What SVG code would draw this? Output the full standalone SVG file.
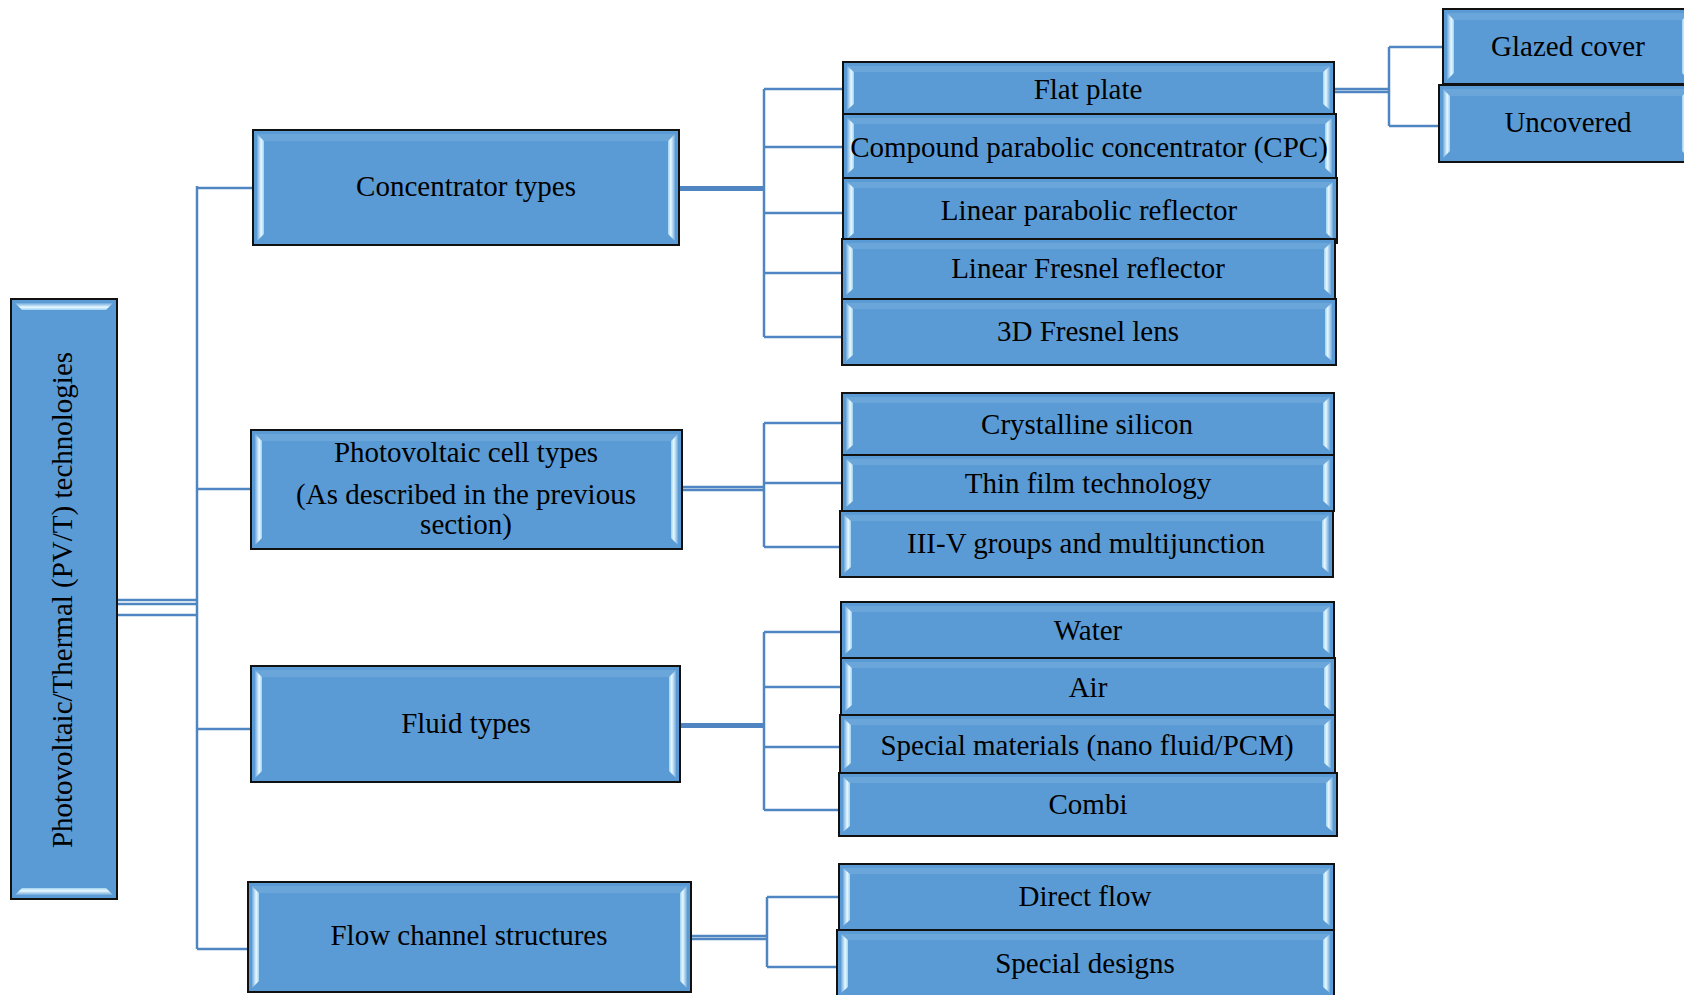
<svg xmlns="http://www.w3.org/2000/svg" width="1684" height="995" viewBox="0 0 1684 995">
<defs>
<linearGradient id="gl" x1="0" y1="0" x2="1" y2="0"><stop offset="0" stop-color="#6fa9dc"/><stop offset="0.6" stop-color="#e8f9ff"/><stop offset="1" stop-color="#9ed2f0"/></linearGradient>
<linearGradient id="gr" x1="1" y1="0" x2="0" y2="0"><stop offset="0" stop-color="#6fa9dc"/><stop offset="0.6" stop-color="#e8f9ff"/><stop offset="1" stop-color="#9ed2f0"/></linearGradient>
<linearGradient id="gt" x1="0" y1="0" x2="0" y2="1"><stop offset="0" stop-color="#6fa9dc"/><stop offset="0.6" stop-color="#e8f9ff"/><stop offset="1" stop-color="#9ed2f0"/></linearGradient>
<linearGradient id="gb" x1="0" y1="1" x2="0" y2="0"><stop offset="0" stop-color="#6fa9dc"/><stop offset="0.6" stop-color="#e8f9ff"/><stop offset="1" stop-color="#9ed2f0"/></linearGradient>
<style>
.box{fill:#5b9bd5;stroke:#111;stroke-width:2}
.bl{fill:url(#gl)}
.br{fill:url(#gr)}
.bt{fill:url(#gt)}
.bb{fill:url(#gb)}
.hl{fill:#86bbe6;opacity:0.35}
.t{font-family:"Liberation Serif","Times New Roman",serif;font-size:29px;fill:#000;text-anchor:middle}
.c{fill:none;stroke:#4f86c1;stroke-width:2.5}
.thick{fill:none;stroke:#4f86c1;stroke-width:5}
</style>
</defs>
<g id="connectors">
<path class="c" d="M117 600H197M117 604H197M117 615H197"/>
<path class="c" d="M197 186V949M197 188H253M197 489H251M197 729H251M197 949H248"/>
<path class="thick" d="M679 188.5H764"/>
<path class="c" d="M764 89V337M764 89H843M764 147H843M764 213H843M764 273H842M764 337H842"/>
<path class="c" d="M682 487H764M682 490H764M764 423V547M764 423H842M764 483H842M764 547H840"/>
<path class="thick" d="M680 725.5H764"/>
<path class="c" d="M764 632V810M764 632H841M764 687H841M764 747H840M764 810H839"/>
<path class="c" d="M691 936H767M691 939H767M767 897V967M767 897H839M767 967H837"/>
<path class="c" d="M1334 89H1389M1334 92H1389M1389 47V126M1389 47H1443M1389 126H1439"/>
</g>
<g id="n-main">
<rect class="box" x="11" y="299" width="106" height="600"/>
<polygon class="bt" points="15,303 113,303 106,310 22,310"/>
<polygon class="bb" points="15,895 113,895 106,888 22,888"/>
<text class="t" transform="translate(72,600) rotate(-90)">Photovoltaic/Thermal (PV/T) technologies</text>
</g>
<g id="n-conc">
<rect class="box" x="253" y="130" width="426" height="115"/>
<polygon class="hl" points="257,134 675,134 668,141 264,141"/>
<polygon class="bl" points="257,134 264,141 264,234 257,241"/>
<polygon class="br" points="675,134 668,141 668,234 675,241"/>
<text class="t" x="466" y="196">Concentrator types</text>
</g>
<g id="n-pv">
<rect class="box" x="251" y="430" width="431" height="119"/>
<polygon class="hl" points="255,434 678,434 671,441 262,441"/>
<polygon class="bl" points="255,434 262,441 262,538 255,545"/>
<polygon class="br" points="678,434 671,441 671,538 678,545"/>
<text class="t" x="466" y="462">Photovoltaic cell types</text>
<text class="t" x="466" y="504">(As described in the previous</text>
<text class="t" x="466" y="534">section)</text>
</g>
<g id="n-fluid">
<rect class="box" x="251" y="666" width="429" height="116"/>
<polygon class="hl" points="255,670 676,670 669,677 262,677"/>
<polygon class="bl" points="255,670 262,677 262,771 255,778"/>
<polygon class="br" points="676,670 669,677 669,771 676,778"/>
<text class="t" x="466" y="733">Fluid types</text>
</g>
<g id="n-flow">
<rect class="box" x="248" y="882" width="443" height="110"/>
<polygon class="hl" points="252,886 687,886 680,893 259,893"/>
<polygon class="bl" points="252,886 259,893 259,981 252,988"/>
<polygon class="br" points="687,886 680,893 680,981 687,988"/>
<text class="t" x="469" y="945">Flow channel structures</text>
</g>
<g id="n-flat">
<rect class="box" x="843" y="62" width="491" height="52"/>
<polygon class="hl" points="847,66 1330,66 1323,72 854,72"/>
<polygon class="bl" points="847,66 854,72 854,104 847,110"/>
<polygon class="br" points="1330,66 1323,72 1323,104 1330,110"/>
<text class="t" x="1088" y="99">Flat plate</text>
</g>
<g id="n-cpc">
<rect class="box" x="843" y="114" width="493" height="64"/>
<polygon class="hl" points="847,118 1332,118 1325,124 854,124"/>
<polygon class="bl" points="847,118 854,124 854,168 847,174"/>
<polygon class="br" points="1332,118 1325,124 1325,168 1332,174"/>
<text class="t" x="1089" y="157">Compound parabolic concentrator (CPC)</text>
</g>
<g id="n-lpr">
<rect class="box" x="843" y="178" width="494" height="65"/>
<polygon class="hl" points="847,182 1333,182 1326,188 854,188"/>
<polygon class="bl" points="847,182 854,188 854,233 847,239"/>
<polygon class="br" points="1333,182 1326,188 1326,233 1333,239"/>
<text class="t" x="1089" y="220">Linear parabolic reflector</text>
</g>
<g id="n-lfr">
<rect class="box" x="842" y="239" width="493" height="60"/>
<polygon class="hl" points="846,243 1331,243 1324,249 853,249"/>
<polygon class="bl" points="846,243 853,249 853,289 846,295"/>
<polygon class="br" points="1331,243 1324,249 1324,289 1331,295"/>
<text class="t" x="1088" y="278">Linear Fresnel reflector</text>
</g>
<g id="n-3d">
<rect class="box" x="842" y="299" width="494" height="66"/>
<polygon class="hl" points="846,303 1332,303 1325,309 853,309"/>
<polygon class="bl" points="846,303 853,309 853,355 846,361"/>
<polygon class="br" points="1332,303 1325,309 1325,355 1332,361"/>
<text class="t" x="1088" y="341">3D Fresnel lens</text>
</g>
<g id="n-cryst">
<rect class="box" x="842" y="393" width="492" height="62"/>
<polygon class="hl" points="846,397 1330,397 1323,403 853,403"/>
<polygon class="bl" points="846,397 853,403 853,445 846,451"/>
<polygon class="br" points="1330,397 1323,403 1323,445 1330,451"/>
<text class="t" x="1087" y="434">Crystalline silicon</text>
</g>
<g id="n-thin">
<rect class="box" x="842" y="455" width="492" height="56"/>
<polygon class="hl" points="846,459 1330,459 1323,465 853,465"/>
<polygon class="bl" points="846,459 853,465 853,501 846,507"/>
<polygon class="br" points="1330,459 1323,465 1323,501 1330,507"/>
<text class="t" x="1088" y="493">Thin film technology</text>
</g>
<g id="n-iii">
<rect class="box" x="840" y="511" width="493" height="66"/>
<polygon class="hl" points="844,515 1329,515 1322,521 851,521"/>
<polygon class="bl" points="844,515 851,521 851,567 844,573"/>
<polygon class="br" points="1329,515 1322,521 1322,567 1329,573"/>
<text class="t" x="1086" y="553">III-V groups and multijunction</text>
</g>
<g id="n-water">
<rect class="box" x="841" y="602" width="493" height="56"/>
<polygon class="hl" points="845,606 1330,606 1323,612 852,612"/>
<polygon class="bl" points="845,606 852,612 852,648 845,654"/>
<polygon class="br" points="1330,606 1323,612 1323,648 1330,654"/>
<text class="t" x="1088" y="640">Water</text>
</g>
<g id="n-air">
<rect class="box" x="841" y="658" width="494" height="57"/>
<polygon class="hl" points="845,662 1331,662 1324,668 852,668"/>
<polygon class="bl" points="845,662 852,668 852,705 845,711"/>
<polygon class="br" points="1331,662 1324,668 1324,705 1331,711"/>
<text class="t" x="1088" y="697">Air</text>
</g>
<g id="n-special">
<rect class="box" x="840" y="715" width="495" height="58"/>
<polygon class="hl" points="844,719 1331,719 1324,725 851,725"/>
<polygon class="bl" points="844,719 851,725 851,763 844,769"/>
<polygon class="br" points="1331,719 1324,725 1324,763 1331,769"/>
<text class="t" x="1087" y="755">Special materials (nano fluid/PCM)</text>
</g>
<g id="n-combi">
<rect class="box" x="839" y="773" width="498" height="63"/>
<polygon class="hl" points="843,777 1333,777 1326,783 850,783"/>
<polygon class="bl" points="843,777 850,783 850,826 843,832"/>
<polygon class="br" points="1333,777 1326,783 1326,826 1333,832"/>
<text class="t" x="1088" y="814">Combi</text>
</g>
<g id="n-direct">
<rect class="box" x="839" y="864" width="495" height="66"/>
<polygon class="hl" points="843,868 1330,868 1323,874 850,874"/>
<polygon class="bl" points="843,868 850,874 850,920 843,926"/>
<polygon class="br" points="1330,868 1323,874 1323,920 1330,926"/>
<text class="t" x="1085" y="906">Direct flow</text>
</g>
<g id="n-designs">
<rect class="box" x="837" y="930" width="497" height="67"/>
<polygon class="hl" points="841,934 1330,934 1323,940 848,940"/>
<polygon class="bl" points="841,934 848,940 848,987 841,993"/>
<polygon class="br" points="1330,934 1323,940 1323,987 1330,993"/>
<text class="t" x="1085" y="973">Special designs</text>
</g>
<g id="n-glazed">
<rect class="box" x="1443" y="9" width="250" height="75"/>
<polygon class="hl" points="1447,13 1689,13 1682,20 1454,20"/>
<polygon class="bl" points="1447,13 1454,20 1454,73 1447,80"/>
<polygon class="br" points="1689,13 1682,20 1682,73 1689,80"/>
<text class="t" x="1568" y="56">Glazed cover</text>
</g>
<g id="n-uncov">
<rect class="box" x="1439" y="85" width="254" height="77"/>
<polygon class="hl" points="1443,89 1689,89 1682,96 1450,96"/>
<polygon class="bl" points="1443,89 1450,96 1450,151 1443,158"/>
<polygon class="br" points="1689,89 1682,96 1682,151 1689,158"/>
<text class="t" x="1568" y="132">Uncovered</text>
</g>
</svg>
